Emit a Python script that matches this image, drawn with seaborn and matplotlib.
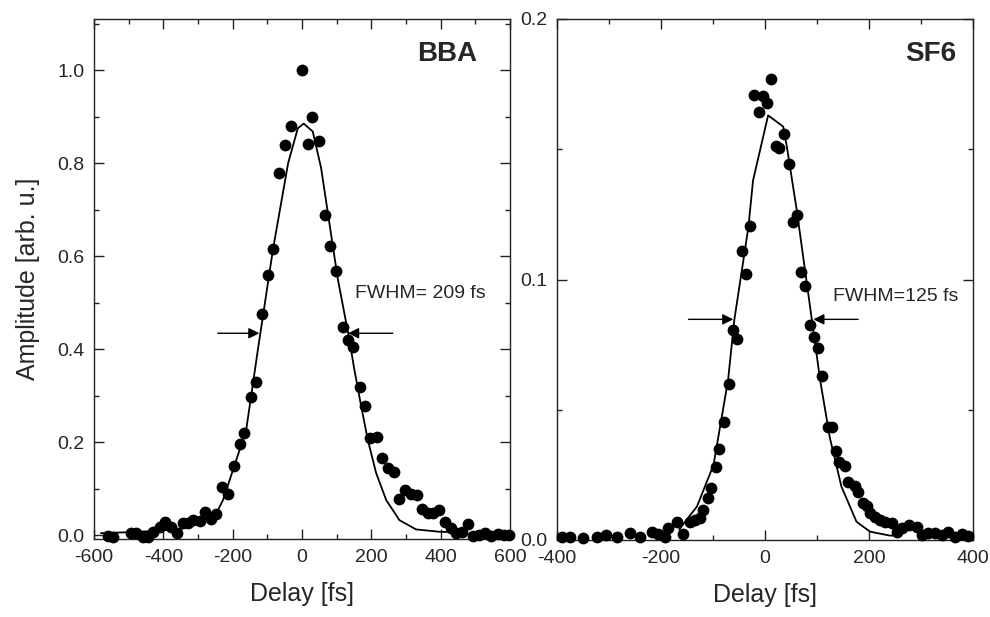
import matplotlib
matplotlib.use("Agg")
import matplotlib.pyplot as plt
from matplotlib.ticker import MultipleLocator, FormatStrFormatter
import seaborn as sns

# ---------------- BBA (left panel) ----------------
bba_delay = [-560, -545, -492, -478, -459, -444, -430, -411, -396, -377, -361, -343,
             -329, -313, -295, -281, -262, -247, -231, -214, -197, -180, -166, -148,
             -132, -116, -99, -83, -66, -48, -31, 0, 17, 30, 50, 66, 82, 99, 117, 132,
             148, 166, 183, 197, 216, 231, 247, 265, 281, 298, 315, 331, 346, 363, 379,
             396, 413, 430, 444, 462, 478, 492, 512, 529, 545, 564, 583, 596]
bba_amp = [-0.002, -0.005, 0.005, 0.004, -0.004, -0.004, 0.007, 0.017, 0.029, 0.018,
           0.004, 0.025, 0.025, 0.032, 0.031, 0.050, 0.034, 0.045, 0.104, 0.088, 0.149,
           0.196, 0.220, 0.296, 0.329, 0.475, 0.559, 0.615, 0.779, 0.840, 0.880, 1.000,
           0.842, 0.900, 0.848, 0.688, 0.622, 0.568, 0.448, 0.420, 0.405, 0.319, 0.277,
           0.208, 0.210, 0.165, 0.145, 0.135, 0.077, 0.097, 0.088, 0.086, 0.055, 0.048,
           0.048, 0.054, 0.029, 0.014, 0.005, 0.007, 0.023, -0.002, 0.000, 0.004,
           -0.002, 0.002, 0.000, 0.000]
bba_fit_delay = [-580, -500, -420, -344, -295, -247, -228, -199, -161, -127, -84, -40,
                 -12, 5, 31, 55, 103, 137, 150, 171, 190, 214, 243, 281, 329, 396, 445]
bba_fit_amp = [0.004, 0.006, 0.009, 0.014, 0.029, 0.047, 0.075, 0.140, 0.226, 0.400,
               0.613, 0.800, 0.875, 0.885, 0.868, 0.790, 0.552, 0.419, 0.360, 0.276,
               0.204, 0.133, 0.075, 0.032, 0.012, 0.007, 0.006]

# ---------------- SF6 (right panel) ----------------
sf6_delay = [-391, -375, -350, -324, -305, -285, -260, -240, -218, -205, -192, -186,
             -170, -157, -145, -135, -125, -120, -110, -104, -95, -88, -79, -69, -61,
             -53, -45, -37, -29, -21, -12, -3, 4.5, 12, 20.5, 27.5, 37, 45.5, 53, 61,
             69, 77.5, 86.5, 95, 102.5, 110, 122, 128, 136.5, 143, 154, 160, 173, 179.5,
             189, 196, 202, 211.5, 221, 231, 244, 253, 263, 276, 292, 301, 314, 327,
             340, 352.5, 365, 378, 391]
sf6_amp = [0.0013, 0.0010, 0.0006, 0.0013, 0.0019, 0.0013, 0.0026, 0.0013, 0.0032,
           0.0023, 0.0013, 0.0045, 0.0070, 0.0023, 0.0070, 0.0077, 0.0083, 0.0115,
           0.0160, 0.0198, 0.0279, 0.0348, 0.0454, 0.0599, 0.0806, 0.0770, 0.1110,
           0.1021, 0.1205, 0.1710, 0.1642, 0.1704, 0.1676, 0.1768, 0.1514, 0.1506,
           0.1559, 0.1442, 0.1222, 0.1248, 0.1030, 0.0976, 0.0825, 0.0780, 0.0736,
           0.0630, 0.0433, 0.0435, 0.0342, 0.0300, 0.0284, 0.0224, 0.0207, 0.0185,
           0.0143, 0.0130, 0.0105, 0.0087, 0.0077, 0.0070, 0.0066, 0.0032, 0.0045,
           0.0058, 0.0051, 0.0019, 0.0028, 0.0026, 0.0019, 0.0032, 0.0013, 0.0023,
           0.0015]
sf6_fit_delay = [-165, -151, -131, -99, -71, -59, -32, -23, 6, 35, 42, 61, 90, 106,
                 125, 147, 176, 202, 240, 260]
sf6_fit_amp = [0.0040, 0.0077, 0.0128, 0.0288, 0.0614, 0.0845, 0.1200, 0.1380, 0.1630,
               0.1587, 0.1510, 0.1267, 0.0847, 0.0614, 0.0390, 0.0205, 0.0070, 0.0032,
               0.0017, 0.0017]

sns.set_style("ticks")
plt.rcParams['font.family'] = ['Liberation Sans', 'DejaVu Sans']
plt.rcParams['axes.unicode_minus'] = False

fig = plt.figure(figsize=(9.9, 6.17), dpi=100)
W, H = 990.0, 617.0
axL = fig.add_axes([94 / W, 1 - 539 / H, 416 / W, 520 / H])
axR = fig.add_axes([557 / W, 1 - 540 / H, 416 / W, 521 / H])


def draw(ax, dx, dy, fx, fy):
    sns.lineplot(x=fx, y=fy, ax=ax, color='black', lw=1.3, sort=False,
                 estimator=None, zorder=2)
    sns.scatterplot(x=dx, y=dy, ax=ax, color='black', s=72, linewidth=0,
                    zorder=3, clip_on=False)
    for sp in ax.spines.values():
        sp.set_linewidth(1.0)
        sp.set_color('#222222')
        sp.set_visible(True)
    ax.tick_params(which='both', direction='in', top=True, right=True,
                   labelsize=14, width=1.0, color='#222222', pad=7)
    ax.tick_params(which='major', length=7)
    ax.tick_params(which='minor', length=3.6)
    ax.set_xlabel('Delay [fs]', fontsize=18, labelpad=12)


draw(axL, bba_delay, bba_amp, bba_fit_delay, bba_fit_amp)
axL.set_xlim(-600, 600)
axL.set_ylim(-0.0086, 1.11)
axL.xaxis.set_major_locator(MultipleLocator(200))
axL.xaxis.set_minor_locator(MultipleLocator(100))
axL.yaxis.set_major_locator(MultipleLocator(0.2))
axL.yaxis.set_minor_locator(MultipleLocator(0.1))
axL.yaxis.set_major_formatter(FormatStrFormatter('%.1f'))
axL.set_ylabel('Amplitude [arb. u.]', fontsize=18, labelpad=12)
axL.text(420, 1.034, 'BBA', fontsize=20, fontweight='bold', ha='center', va='center')
axL.text(152, 0.52, 'FWHM= 209 fs', fontsize=14, ha='left', va='center')
arr = dict(arrowstyle='-|>', color='black', lw=1.0, mutation_scale=16,
           shrinkA=0, shrinkB=0)
axL.annotate('', xy=(-123, 0.434), xytext=(-243, 0.434), arrowprops=arr)
axL.annotate('', xy=(133, 0.434), xytext=(262, 0.434), arrowprops=arr)

draw(axR, sf6_delay, sf6_amp, sf6_fit_delay, sf6_fit_amp)
axR.set_xlim(-400, 400)
axR.set_ylim(0, 0.2)
axR.xaxis.set_major_locator(MultipleLocator(200))
axR.xaxis.set_minor_locator(MultipleLocator(100))
axR.yaxis.set_major_locator(MultipleLocator(0.1))
axR.yaxis.set_minor_locator(MultipleLocator(0.05))
axR.yaxis.set_major_formatter(FormatStrFormatter('%.1f'))
axR.set_ylabel('')
axR.text(318, 0.1866, 'SF6', fontsize=20, fontweight='bold', ha='center', va='center')
axR.text(131, 0.0933, 'FWHM=125 fs', fontsize=14, ha='left', va='center')
axR.annotate('', xy=(-61, 0.0847), xytext=(-147, 0.0847), arrowprops=arr)
axR.annotate('', xy=(93, 0.0847), xytext=(179, 0.0847), arrowprops=arr)

fig.savefig('out.png', dpi=100)
